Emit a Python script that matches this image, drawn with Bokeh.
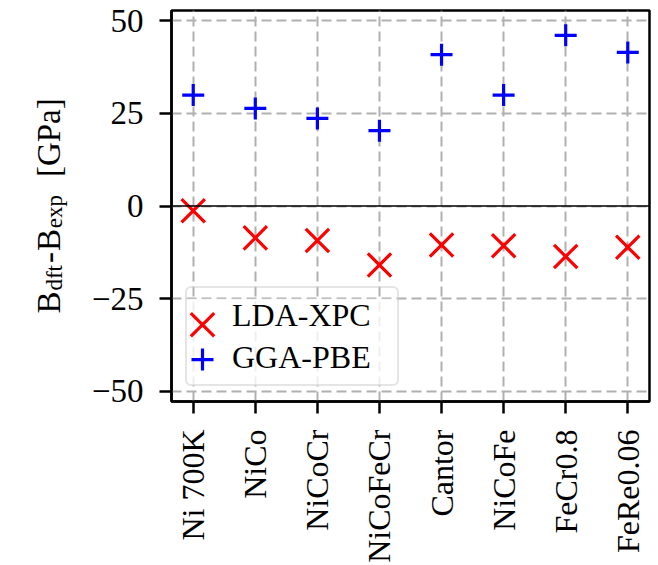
from math import pi

from bokeh.core.properties import value
from bokeh.embed import file_html
from bokeh.layouts import row
from bokeh.models import (ColumnDataSource, FixedTicker, Legend, LegendItem,
                          Range1d, Span)
from bokeh.plotting import figure
from bokeh.resources import INLINE

# Bulk modulus deviation B_dft - B_exp (GPa) for each alloy
categories = ["Ni 700K", "NiCo", "NiCoCr", "NiCoFeCr", "Cantor", "NiCoFe",
              "FeCr0.8", "FeRe0.06"]
lda_xpc = [-1.3, -8.6, -9.3, -15.9, -10.5, -10.7, -13.6, -11.1]
gga_pbe = [29.9, 26.3, 23.6, 20.3, 40.8, 29.9, 46.0, 41.4]
y_ticks = [-50, -25, 0, 25, 50]
series_labels = ["LDA-XPC", "GGA-PBE"]

FONT = "Liberation Serif"
FS = 32
W, H = 658, 565
TITLE_W = 80          # strip holding the rotated y-axis title
FRAME_L, FRAME_R, FRAME_T, FRAME_B = 171, 9, 10, 163

LDA_STYLE = dict(marker="x", size=33, line_color="#ff0000", line_width=3.2)
GGA_STYLE = dict(marker="cross", size=22, line_color="#0000ff", line_width=3.2)

x_pos = list(range(len(categories)))
src = ColumnDataSource(dict(x=x_pos, lda=lda_xpc, gga=gga_pbe))

x_lo, x_hi = -0.35, len(categories) - 1 + 0.35
y_lo, y_hi = -52.7, 52.7
y_range = Range1d(y_lo, y_hi)

p = figure(width=W - TITLE_W, height=H, output_backend="svg",
           toolbar_location=None,
           x_range=Range1d(x_lo, x_hi), y_range=y_range,
           min_border_left=FRAME_L - TITLE_W, min_border_right=FRAME_R,
           min_border_top=FRAME_T, min_border_bottom=FRAME_B)
p.background_fill_color = "white"
p.border_fill_color = "white"
p.outline_line_color = "black"
p.outline_line_width = 2.5

# axes
p.xaxis.ticker = FixedTicker(ticks=x_pos)
p.xaxis.major_label_overrides = {i: c for i, c in enumerate(categories)}
p.xaxis.major_label_orientation = pi / 2
p.yaxis.ticker = FixedTicker(ticks=y_ticks)
p.yaxis.major_label_overrides = {t: str(t).replace("-", "\u2212") for t in y_ticks}
for ax in (p.xaxis, p.yaxis):
    ax.major_label_text_font = FONT
    ax.major_label_text_color = "black"
    ax.axis_line_color = "black"
    ax.axis_line_width = 2.5
    ax.major_tick_line_color = "black"
    ax.major_tick_line_width = 2.5
    ax.major_tick_out = 12
    ax.major_tick_in = 0
    ax.minor_tick_line_color = None
p.xaxis.major_label_text_font_size = f"{FS}px"
p.yaxis.major_label_text_font_size = f"{FS + 1}px"
p.xaxis.major_label_standoff = 16
p.yaxis.major_label_standoff = 16

# dashed grid
for g in (p.xgrid, p.ygrid):
    g.grid_line_color = "#b0b0b0"
    g.grid_line_width = 2
    g.grid_line_dash = "10 5"

p.add_layout(Span(location=0, dimension="width", line_color="black", line_width=1.5))

r_lda = p.scatter("x", "lda", source=src, **LDA_STYLE)
r_gga = p.scatter("x", "gga", source=src, **GGA_STYLE)

frame_w = W - FRAME_L - FRAME_R
frame_h = H - FRAME_T - FRAME_B


def to_data(px, py):
    """Page pixel -> data coordinates of the main frame."""
    x = x_lo + (px - FRAME_L) / frame_w * (x_hi - x_lo)
    y = y_hi - (py - FRAME_T) / frame_h * (y_hi - y_lo)
    return x, y


# legend geometry (page pixels)
LEG_PAD, LEG_ROW, LEG_SPACING, LEG_GLYPH_W = 6, 42, -7, 22
LEG_STANDOFF, LEG_LABEL_W = 17, 159
leg_left = FRAME_L + 14
leg_bottom = H - FRAME_B - 15
leg_top = leg_bottom - (2 * LEG_PAD + 2 * LEG_ROW + LEG_SPACING)
leg_right = leg_left + 2 * LEG_PAD + LEG_GLYPH_W + LEG_STANDOFF + LEG_LABEL_W

# translucent white panel behind the legend (keys are drawn above it)
bx0, by0 = to_data(leg_left + 1, leg_bottom - 1)
bx1, by1 = to_data(leg_right - 1, leg_top + 1)
p.quad(left=[bx0], right=[bx1], bottom=[by0], top=[by1],
       fill_color="white", fill_alpha=0.8, line_color=None)

# full-size legend keys
key_px = leg_left + LEG_PAD + LEG_GLYPH_W / 2
for k, style in enumerate((LDA_STYLE, GGA_STYLE)):
    kx, ky = to_data(key_px, leg_top + LEG_PAD + 21 + k * 35)
    p.scatter(x=[kx], y=[ky], **style)

# Bokeh shrinks marker keys to the glyph box, so the legend entries use
# transparent key renderers and the keys above sit in their place
key_lda = p.scatter(x=[], y=[], marker="x", line_alpha=0)
key_gga = p.scatter(x=[], y=[], marker="cross", line_alpha=0)
legend = Legend(items=[LegendItem(label=series_labels[0], renderers=[key_lda]),
                       LegendItem(label=series_labels[1], renderers=[key_gga])],
                location=(14, 15), orientation="vertical")
legend.label_text_font = FONT
legend.label_text_font_size = f"{FS}px"
legend.label_text_color = "black"
legend.label_height = LEG_ROW
legend.glyph_height = LEG_ROW
legend.glyph_width = LEG_GLYPH_W
legend.label_width = LEG_LABEL_W
legend.label_standoff = LEG_STANDOFF
legend.spacing = LEG_SPACING
legend.padding = LEG_PAD
legend.margin = 0
legend.border_line_color = "#cccccc"
legend.border_line_width = 2
legend.border_radius = 6
legend.background_fill_alpha = 0
p.add_layout(legend)

# y-axis title strip: B_dft-B_exp [GPa], with subscripts; shares the
# vertical frame and range of the main plot
t = figure(width=TITLE_W, height=H, output_backend="svg", toolbar_location=None,
           x_range=Range1d(0, TITLE_W), y_range=y_range,
           x_axis_location=None, y_axis_location=None,
           min_border_left=0, min_border_right=0,
           min_border_top=FRAME_T, min_border_bottom=FRAME_B)
t.outline_line_color = None
t.background_fill_color = "white"
t.border_fill_color = "white"
t.xgrid.visible = False
t.ygrid.visible = False

TFS, SFS = 33, 23            # main / subscript font sizes of the title
BASE_X, SUB_DROP = 48, 6     # baseline position and subscript drop (px)
# (text, is_subscript, advance width in em of Liberation Serif, gap after)
pieces = [("B", False, 0.667, 1), ("dft", True, 1.111, 2), ("-", False, 0.333, 1),
          ("B", False, 0.667, 1), ("exp", True, 1.444, 18), ("[GPa]", False, 2.388, 0)]
advances = [(SFS if sub else TFS) * em + gap for _, sub, em, gap in pieces]
py = (H - FRAME_B + FRAME_T) / 2 + sum(advances) / 2   # centred on the frame
for (txt, sub, _, _), adv in zip(pieces, advances):
    _, ty = to_data(FRAME_L, py)
    t.text(x=[BASE_X + (SUB_DROP if sub else 0)], y=[ty], text=[txt], angle=pi / 2,
           text_font=value(FONT), text_font_size=value(f"{SFS if sub else TFS}px"),
           text_align="left", text_baseline="alphabetic", text_color="black")
    py -= adv

layout = row(t, p, spacing=0)
open("out.html", "w").write(file_html(layout, INLINE))
